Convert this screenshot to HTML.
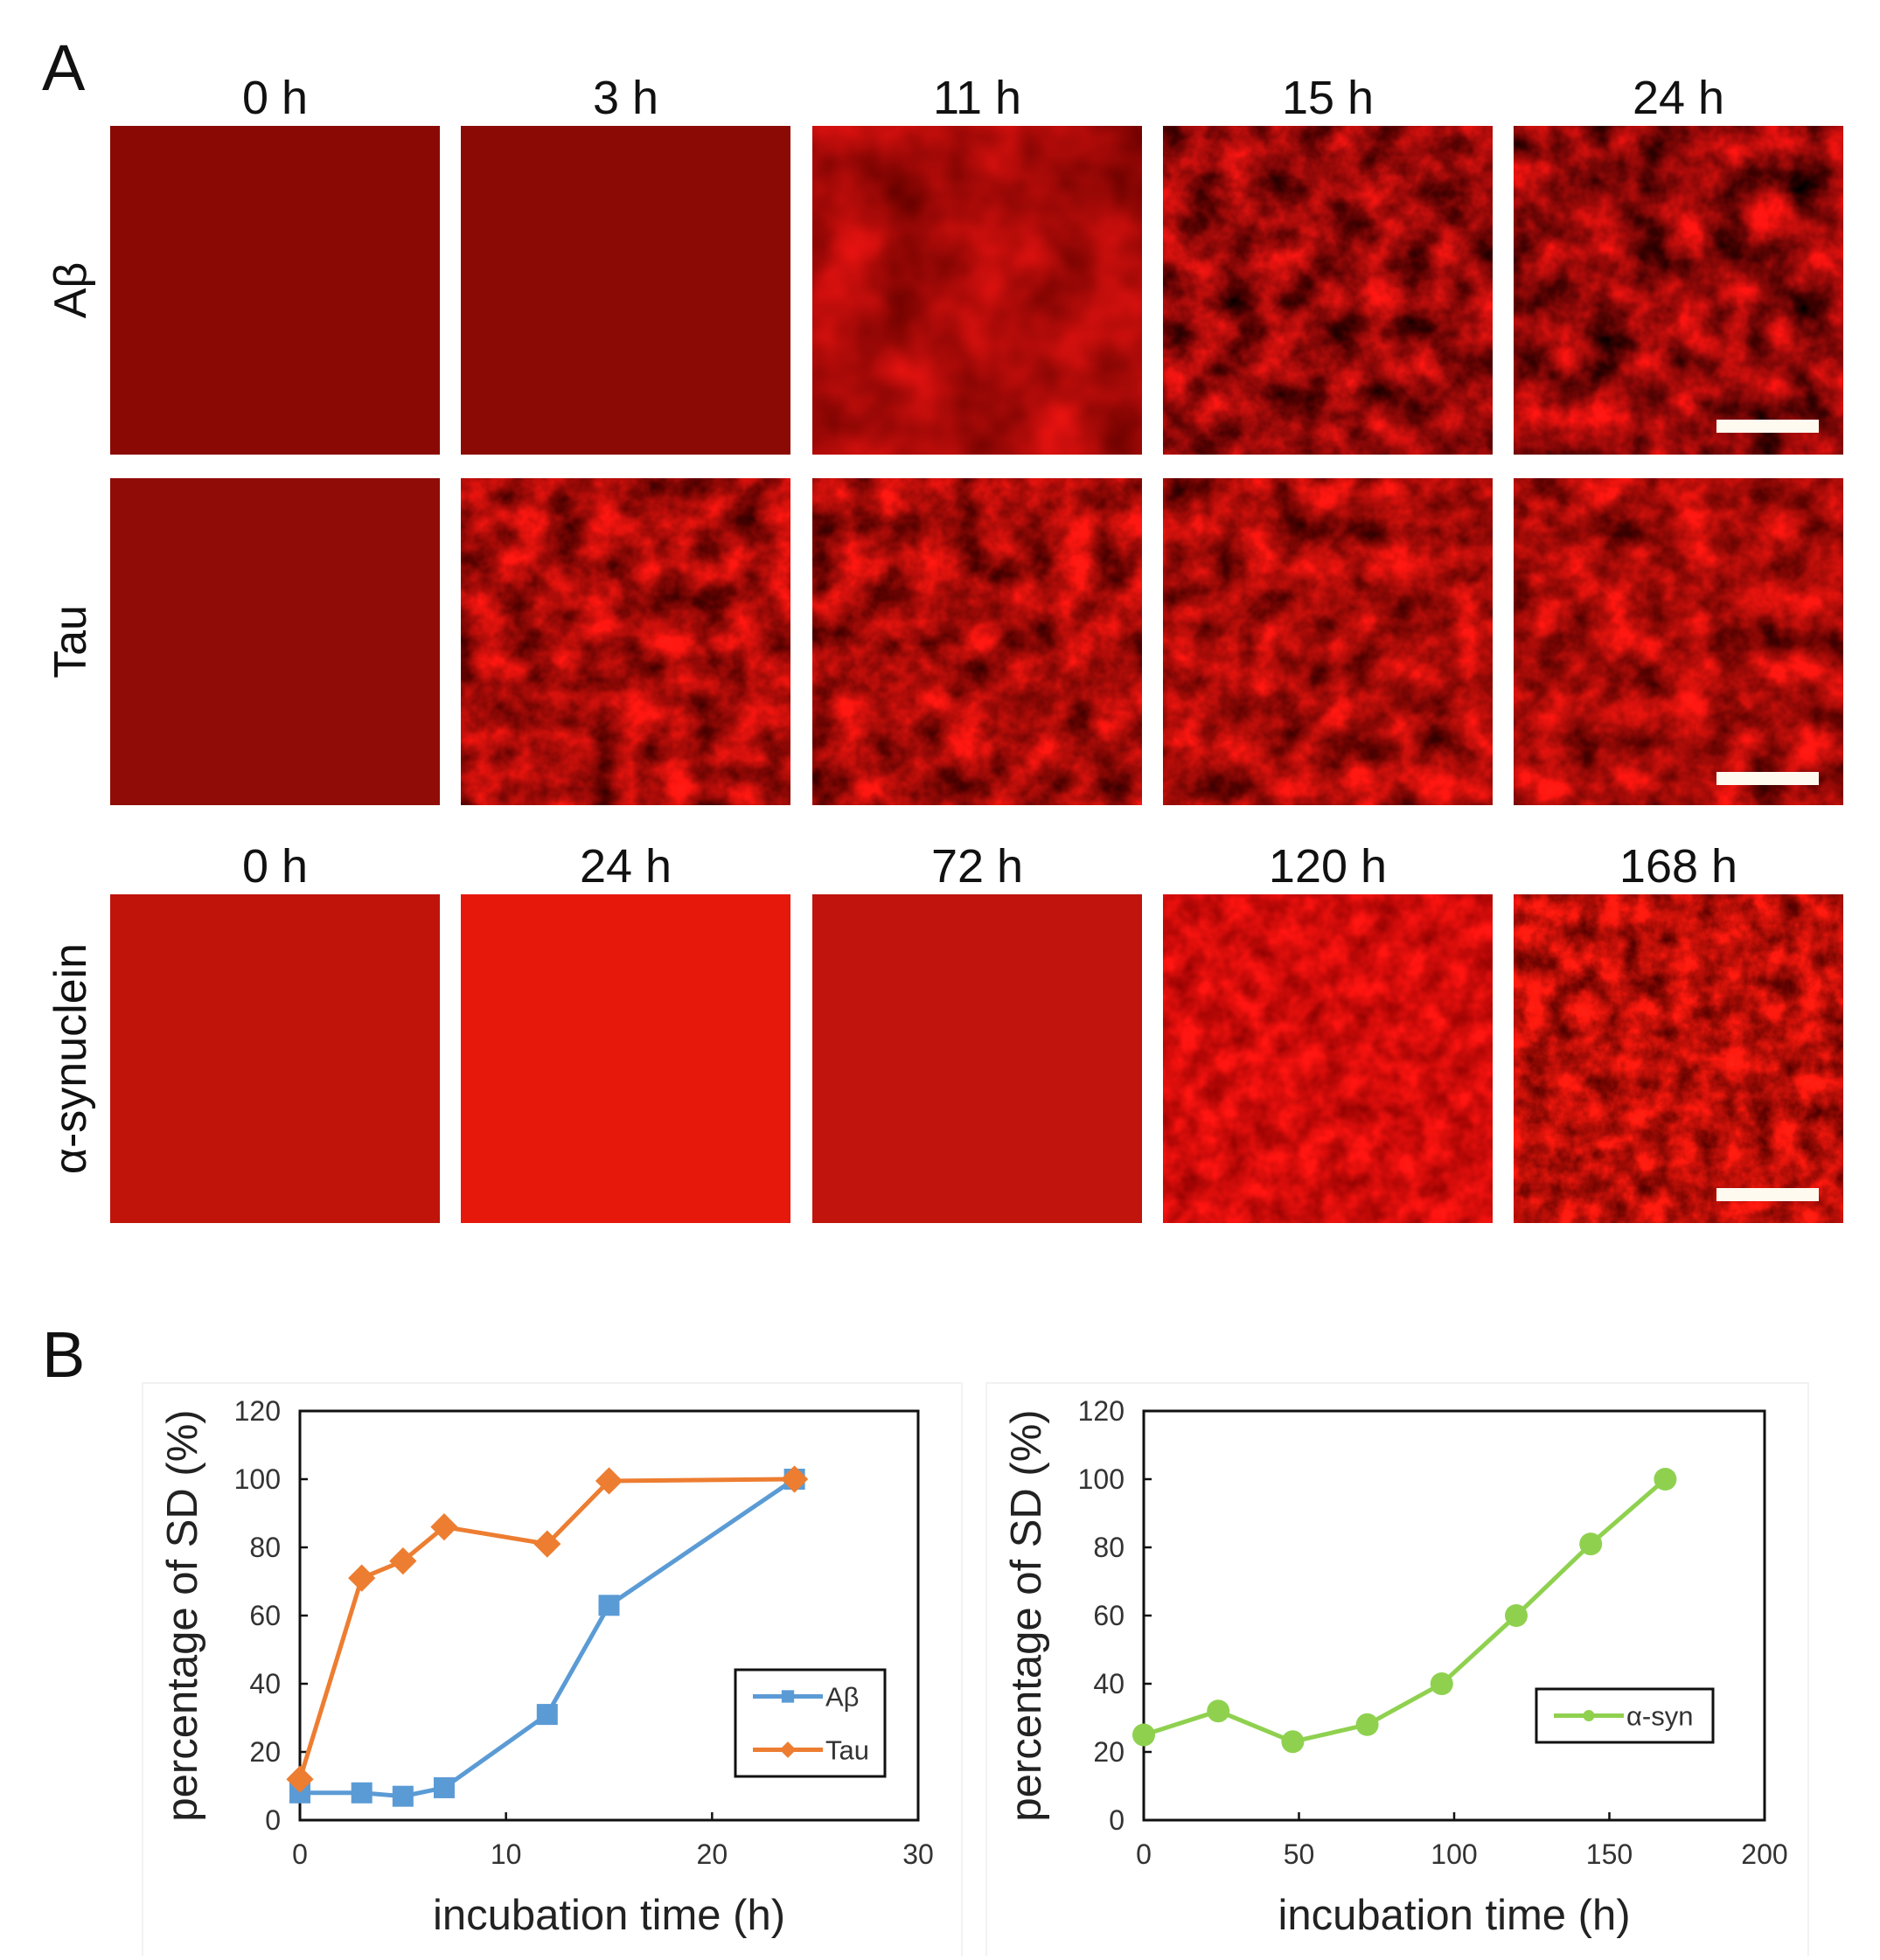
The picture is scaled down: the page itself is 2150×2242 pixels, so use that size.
<!DOCTYPE html>
<html><head><meta charset="utf-8"><style>
html,body{margin:0;padding:0;background:#fff;}
svg text{font-family:"Liberation Sans",sans-serif;}
</style></head><body>
<svg id="fig" width="2150" height="2237" viewBox="0 0 2150 2237" xmlns="http://www.w3.org/2000/svg">
<defs>
<filter id="texStrong" x="0" y="0" width="100%" height="100%" color-interpolation-filters="sRGB">
<feTurbulence type="fractalNoise" baseFrequency="0.022" numOctaves="4" seed="3"/>
<feColorMatrix type="matrix" values="1.4 0 0 0 -0.12  0.15 0 0 0 -0.04  0.12 0 0 0 -0.03  0 0 0 0 1"/>
</filter>
<filter id="texStrong2" x="0" y="0" width="100%" height="100%" color-interpolation-filters="sRGB">
<feTurbulence type="fractalNoise" baseFrequency="0.024" numOctaves="4" seed="11"/>
<feColorMatrix type="matrix" values="1.2 0 0 0 0.06  0.15 0 0 0 -0.03  0.12 0 0 0 -0.03  0 0 0 0 1"/>
</filter>
<filter id="texMed" x="0" y="0" width="100%" height="100%" color-interpolation-filters="sRGB">
<feTurbulence type="fractalNoise" baseFrequency="0.025" numOctaves="4" seed="7"/>
<feColorMatrix type="matrix" values="1.2 0 0 0 -0.02  0.15 0 0 0 -0.04  0.12 0 0 0 -0.03  0 0 0 0 1"/>
</filter>
<filter id="texMild" x="0" y="0" width="100%" height="100%" color-interpolation-filters="sRGB">
<feTurbulence type="fractalNoise" baseFrequency="0.012" numOctaves="3" seed="5"/>
<feColorMatrix type="matrix" values="0.7 0 0 0 0.32  0.1 0 0 0 -0.01  0.1 0 0 0 -0.02  0 0 0 0 1"/>
</filter>
<filter id="texLight" x="0" y="0" width="100%" height="100%" color-interpolation-filters="sRGB">
<feTurbulence type="fractalNoise" baseFrequency="0.035" numOctaves="3" seed="9"/>
<feColorMatrix type="matrix" values="0.7 0 0 0 0.48  0.12 0 0 0 -0.01  0.1 0 0 0 -0.01  0 0 0 0 1"/>
</filter>
<filter id="texBright" x="0" y="0" width="100%" height="100%" color-interpolation-filters="sRGB">
<feTurbulence type="fractalNoise" baseFrequency="0.035" numOctaves="4" seed="13"/>
<feColorMatrix type="matrix" values="1.2 0 0 0 0.14  0.18 0 0 0 -0.03  0.12 0 0 0 -0.03  0 0 0 0 1"/>
</filter>
</defs>

<text x="48" y="103" font-size="74" fill="#111">A</text>
<text x="48" y="1575" font-size="74" fill="#111">B</text>

<g id="images"></g>
<g id="charts"></g>
</svg>
<script>
const NS="http://www.w3.org/2000/svg";
function mk(tag,attrs,parent){const e=document.createElementNS(NS,tag);for(const k in attrs)e.setAttribute(k,attrs[k]);(parent||document.getElementById('fig')).appendChild(e);return e;}

// ---------- Panel A micrographs ----------
const colX=[126,527,929,1330,1731];
const rowY=[144,547,1023];
const rowH=[376,374,376];
const panelW=377;
const rowTitles=[["0 h","3 h","11 h","15 h","24 h"],null,["0 h","24 h","72 h","120 h","168 h"]];
const rowLabels=["Aβ","Tau","α-synuclein"];
const looks=[
 [["#8a0904",null],["#8c0a05",null],["#a8130c","texMild"],["#a0100a","texMed"],["#900b06","texStrong"]],
 [["#900c07",null],["#b8150c","texStrong2"],["#b8150c","texStrong2"],["#b8150c","texStrong2"],["#b8150c","texStrong2"]],
 [["#c0140b",null],["#e6180c",null],["#c0140c",null],["#d0180e","texLight"],["#d0180e","texBright"]]
];
const imgG=document.getElementById('images');
for(let r=0;r<3;r++){
  for(let c=0;c<5;c++){
    const g=mk('g',{},imgG);
    
    
    const [col,f]=looks[r][c];
    mk('rect',{x:colX[c],y:rowY[r],width:panelW,height:rowH[r],fill:col},g);
    if(f){mk('rect',{x:colX[c],y:rowY[r],width:panelW,height:rowH[r],filter:'url(#'+f+')'},g);}
    if(c===4){
      const sb=mk('rect',{x:colX[c]+232,y:rowY[r]+336,width:117,height:15,fill:'#fffaf0'},g);
      
      
    }
    if(rowTitles[r]){
      const t=mk('text',{x:colX[c]+panelW/2,y:rowY[r]-14,'font-size':54,'text-anchor':'middle',fill:'#111'});
      t.textContent=rowTitles[r][c];
      
      
    }
  }
  const lab=mk('text',{x:0,y:0,'font-size':52,'text-anchor':'middle',fill:'#111',transform:'translate(98,'+(rowY[r]+rowH[r]/2)+') rotate(-90)'});
  lab.textContent=rowLabels[r];
  
  
}

// ---------- Panel B charts data ----------
const abTime=[0,3,5,7,12,15,24];
const abValues=[8,8,7,9.5,31,63,100];
const tauTime=[0,3,5,7,12,15,24];
const tauValues=[12,71,76,86,81,99.5,100];
const synTime=[0,24,48,72,96,120,144,168];
const synValues=[25,32,23,28,40,60,81,100];
const yTicks=[0,20,40,60,80,100,120];
const xTicksLeft=[0,10,20,30];
const xTicksRight=[0,50,100,150,200];

function chart(name,L,R,T,B,xMax,xTicks,series,legend){
  const g=mk('g',{},document.getElementById('charts'));
  
  
  mk('rect',{x:L-180,y:T-32,width:R-L+230,height:B-T+300,fill:'none',stroke:'#f2f2f2','stroke-width':2},g);
  const sx=v=>L+(R-L)*v/xMax, sy=v=>B-(B-T)*v/120;
  const box=mk('rect',{x:L,y:T,width:R-L,height:B-T,fill:'#fff',stroke:'#111','stroke-width':3},g);
  
  
  yTicks.forEach(v=>{
    mk('line',{x1:L,x2:L+9,y1:sy(v),y2:sy(v),stroke:'#111','stroke-width':2.5},g);
    const t=mk('text',{x:L-22,y:sy(v)+11,'font-size':32,'text-anchor':'end',fill:'#333'},g);
    t.textContent=v;
    
    
  });
  xTicks.forEach(v=>{
    mk('line',{x1:sx(v),x2:sx(v),y1:B,y2:B-9,stroke:'#111','stroke-width':2.5},g);
    const t=mk('text',{x:sx(v),y:B+50,'font-size':32,'text-anchor':'middle',fill:'#333'},g);
    t.textContent=v;
    
    
  });
  const yt=mk('text',{x:0,y:0,'font-size':49,'text-anchor':'middle',fill:'#222',transform:'translate('+(L-118)+','+((T+B)/2)+') rotate(-90)'},g);
  yt.textContent='percentage of SD (%)';
  
  
  const xt=mk('text',{x:(L+R)/2,y:B+125,'font-size':49,'text-anchor':'middle',fill:'#222'},g);
  xt.textContent='incubation time (h)';
  
  
  series.forEach(s=>{
    const sg=mk('g',{},g);
    
    
    mk('polyline',{points:s.x.map((v,i)=>sx(v)+','+sy(s.y[i])).join(' '),fill:'none',stroke:s.color,'stroke-width':5},sg);
    s.x.forEach((v,i)=>{
      const m=marker(s.shape,sx(v),sy(s.y[i]),s.size,s.color,sg);
      
      
    });
  });
  const lg=mk('g',{},g);
  
  
  mk('rect',{x:legend.x,y:legend.y,width:legend.w,height:legend.h,fill:'#fff',stroke:'#111','stroke-width':3},lg);
  legend.items.forEach((it,i)=>{
    const cy=legend.y+legend.h/(legend.items.length*2)*(2*i+1);
    const eg=mk('g',{},lg);
    
    
    mk('line',{x1:legend.x+20,x2:legend.x+100,y1:cy,y2:cy,stroke:it.color,'stroke-width':5},eg);
    marker(it.shape,legend.x+60,cy,it.size*0.65,it.color,eg);
    const t=mk('text',{x:legend.x+103,y:cy+11,'font-size':31,fill:'#333'},eg);
    t.textContent=it.label;
  });
}
function marker(shape,x,y,s,color,p){
  if(shape==='sq')return mk('rect',{x:x-s/2,y:y-s/2,width:s,height:s,fill:color},p);
  if(shape==='di')return mk('polygon',{points:`${x},${y-s*0.6} ${x+s*0.6},${y} ${x},${y+s*0.6} ${x-s*0.6},${y}`,fill:color},p);
  return mk('circle',{cx:x,cy:y,r:s/2,fill:color},p);
}
chart('chart-abeta-tau',343,1050,1614,2082,30,xTicksLeft,[
  {key:'abeta',x:abTime,y:abValues,color:'#5b9bd5',shape:'sq',size:24},
  {key:'tau',x:tauTime,y:tauValues,color:'#ed7d31',shape:'di',size:26}
],{x:841,y:1910,w:171,h:122,items:[{label:'Aβ',color:'#5b9bd5',shape:'sq',size:22},{label:'Tau',color:'#ed7d31',shape:'di',size:24}]});
chart('chart-alpha-syn',1308,2018,1614,2082,200,xTicksRight,[
  {key:'alpha-syn',x:synTime,y:synValues,color:'#8fd14f',shape:'ci',size:26}
],{x:1757,y:1932,w:202,h:61,items:[{label:'α-syn',color:'#8fd14f',shape:'ci',size:20}]});
</script>
</body></html>
